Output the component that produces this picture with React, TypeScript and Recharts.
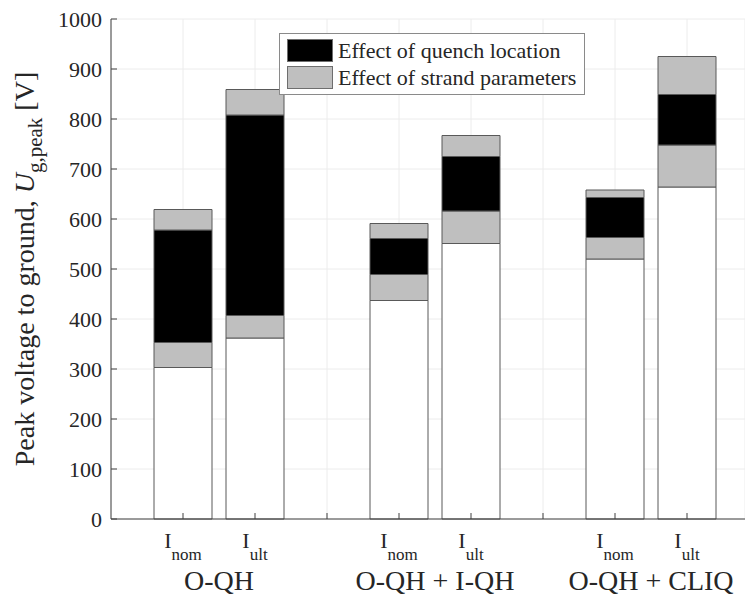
import { BarChart, Bar, XAxis, YAxis, CartesianGrid, Legend } from "recharts";

const GROUPS = ["O-QH", "O-QH + I-QH", "O-QH + CLIQ"];
const CURRENTS = ["nom", "ult"];

// segment heights [V], bottom to top; order: O-QH nom, O-QH ult, I-QH nom, I-QH ult, CLIQ nom, CLIQ ult
const baseV = [303, 362, 437, 551, 520, 664];
const strandLow = [50, 45, 52, 65, 43, 84];
const quench = [225, 401, 72, 109, 80, 101];
const strandHigh = [41, 51, 30, 42, 15, 76];

const Y_TICKS = [0, 100, 200, 300, 400, 500, 600, 700, 800, 900, 1000];
const LEGEND_ITEMS = [
  { label: "Effect of quench location", color: "#000000" },
  { label: "Effect of strand parameters", color: "#bfbfbf" },
];

const FONT = "'Liberation Serif', 'Times New Roman', serif";
const TEXT = "#262626";
const AXIS = "#404040";
const EDGE = "#595959";
const HALF_STEP = 36; // half the distance between the two bars of a group

type Row = {
  key: string;
  group?: string;
  current?: string;
  first?: boolean;
  base?: number;
  low?: number;
  quench?: number;
  high?: number;
};

const rows: Row[] = [];
GROUPS.forEach((g, gi) => {
  CURRENTS.forEach((c, ci) => {
    const i = gi * 2 + ci;
    rows.push({
      key: `${g}|${c}`,
      group: g,
      current: c,
      first: ci === 0,
      base: baseV[i],
      low: strandLow[i],
      quench: quench[i],
      high: strandHigh[i],
    });
  });
  // empty slot between groups
  if (gi < GROUPS.length - 1) rows.push({ key: `gap${gi}` });
});

function BottomTick({ x, y, payload }: any) {
  const row = rows.find((r) => r.key === payload.value);
  return (
    <g>
      <line x1={x} x2={x} y1={y} y2={y - 6} stroke={AXIS} />
      {row?.current && (
        <text x={x} y={y + 29} textAnchor="middle" fontSize={22} fill={TEXT} fontFamily={FONT}>
          <tspan>I</tspan>
          <tspan fontSize={17} dy={12}>{row.current}</tspan>
        </text>
      )}
      {row?.first && (
        <text x={x + HALF_STEP} y={y + 71} textAnchor="middle" fontSize={28} fill={TEXT} fontFamily={FONT}>
          {row.group}
        </text>
      )}
    </g>
  );
}

function TopTick({ x, y }: any) {
  return <line x1={x} x2={x} y1={y} y2={y + 6} stroke={AXIS} />;
}

function LeftTick({ x, y, payload }: any) {
  return (
    <g>
      <line x1={x} x2={x + 6} y1={y} y2={y} stroke={AXIS} />
      <text x={x - 9} y={y} dy="0.35em" textAnchor="end" fontSize={22} fill={TEXT} fontFamily={FONT}>
        {payload.value}
      </text>
    </g>
  );
}

function YLabel({ viewBox }: any) {
  const cy = viewBox.y + viewBox.height / 2;
  return (
    <text
      transform={`translate(34, ${cy}) rotate(-90)`}
      textAnchor="middle"
      fontSize={28}
      fill={TEXT}
      fontFamily={FONT}
    >
      Peak voltage to ground,{" "}
      <tspan fontStyle="italic">U</tspan>
      <tspan fontSize={21} dy={8}>g,peak</tspan>
      <tspan dy={-8}> [V]</tspan>
    </text>
  );
}

function LegendBox() {
  return (
    <div
      style={{
        border: "1px solid #8a8a8a",
        background: "#fff",
        padding: "3px 8px 3px 7px",
        fontFamily: FONT,
        fontSize: 22,
        color: TEXT,
        whiteSpace: "nowrap",
      }}
    >
      {LEGEND_ITEMS.map((it) => (
        <div key={it.label} style={{ display: "flex", alignItems: "center", height: 27 }}>
          <span
            style={{
              display: "inline-block",
              width: 44,
              height: 21,
              background: it.color,
              border: "1px solid #6e6e6e",
              marginRight: 5,
            }}
          />
          <span style={{ lineHeight: "27px" }}>{it.label}</span>
        </div>
      ))}
    </div>
  );
}

export default function App() {
  return (
    <div style={{ position: "absolute", left: 0, top: 0, width: 745, height: 597, background: "#fff" }}>
      <BarChart
        width={745}
        height={597}
        data={rows}
        margin={{ top: 19, right: 0, bottom: 0, left: 51 }}
        barSize={58}
      >
        <CartesianGrid stroke="#ececec" />
        <XAxis
          dataKey="key"
          height={78}
          padding={{ left: 36, right: 22 }}
          interval={0}
          axisLine={{ stroke: AXIS }}
          tickLine={false}
          tickSize={0}
          tickMargin={0}
          tick={<BottomTick />}
        />
        <XAxis
          xAxisId="top"
          dataKey="key"
          orientation="top"
          height={0}
          padding={{ left: 36, right: 22 }}
          interval={0}
          axisLine={{ stroke: AXIS }}
          tickLine={false}
          tickSize={0}
          tickMargin={0}
          tick={<TopTick />}
        />
        <YAxis
          width={60}
          domain={[0, 1000]}
          ticks={Y_TICKS}
          interval={0}
          axisLine={{ stroke: AXIS }}
          tickLine={false}
          tickSize={0}
          tickMargin={0}
          tick={<LeftTick />}
          label={{ content: <YLabel /> }}
        />
        <Legend
          layout="vertical"
          align="center"
          verticalAlign="middle"
          wrapperStyle={{ left: 279, top: 33, width: "auto", height: "auto" }}
          content={<LegendBox />}
        />
        <Bar dataKey="base" stackId="a" fill="#ffffff" stroke={EDGE} isAnimationActive={false} />
        <Bar dataKey="low" stackId="a" fill="#bfbfbf" stroke={EDGE} isAnimationActive={false} />
        <Bar dataKey="quench" stackId="a" fill="#000000" stroke={EDGE} isAnimationActive={false} />
        <Bar dataKey="high" stackId="a" fill="#bfbfbf" stroke={EDGE} isAnimationActive={false} />
      </BarChart>
    </div>
  );
}
